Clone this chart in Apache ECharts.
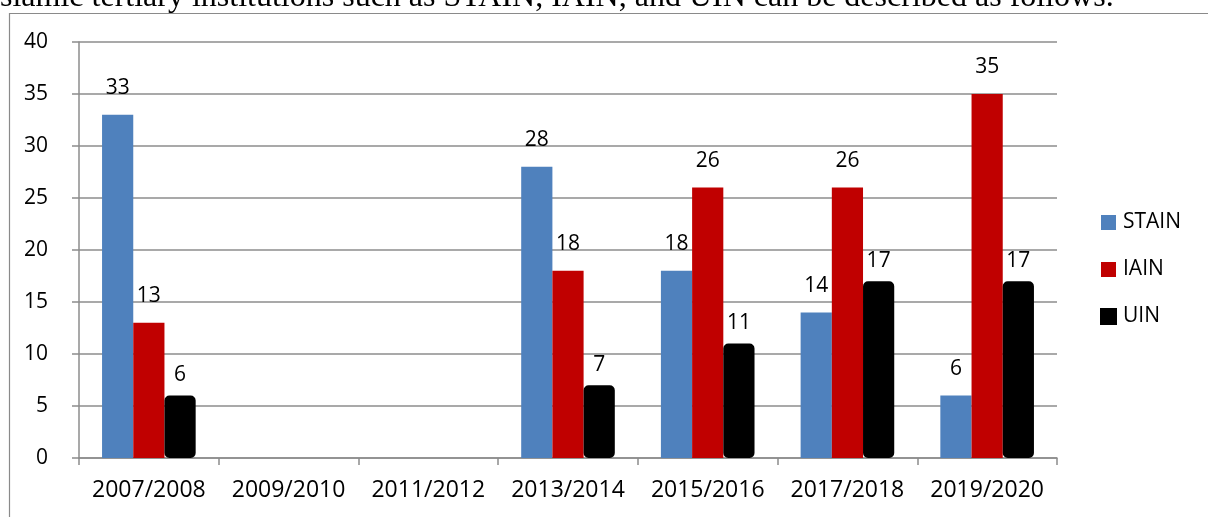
<!DOCTYPE html>
<html>
<head>
<meta charset="utf-8">
<script src="https://cdn.jsdelivr.net/npm/echarts@6/dist/echarts.min.js"></script>
<style>
html,body{margin:0;padding:0;background:#fff;}
#c{width:1208px;height:517px;}
</style>
</head>
<body>
<div id="c"></div>
<script>
var categories = ['2007/2008','2009/2010','2011/2012','2013/2014','2015/2016','2017/2018','2019/2020'];
var stain = [33, null, null, 28, 18, 14, 6];
var iain  = [13, null, null, 18, 26, 26, 35];
var uin   = [6, null, null, 7, 11, 17, 17];
var yTicks = [0, 5, 10, 15, 20, 25, 30, 35, 40];
var headerText = 'slamic tertiary institutions such as STAIN, IAIN, and UIN can be described as follows.';

var FONT = '"Open Sans", "Noto Sans", sans-serif';
var GRID = '#8c8c8c';

var chart = echarts.init(document.getElementById('c'), null, {renderer: 'canvas'});

function lbl(dist) {
  return {show: true, position: 'top', distance: dist, color: '#000', fontFamily: FONT, fontSize: 21,
          formatter: function(p){ return p.value == null ? '' : p.value; }};
}

chart.setOption({
  animation: false,
  backgroundColor: '#fff',
  graphic: [
    {type: 'rect', silent: true, shape: {x: 9.5, y: 13.5, width: 1400, height: 700},
     style: {fill: 'none', stroke: '#8a8a8a', lineWidth: 1.2}},
    {type: 'text', left: 0, top: -18, silent: true, z: 10,
     style: {text: headerText, fontFamily: '"Liberation Serif", "Times New Roman", serif', fontSize: 32, fill: '#000'}}
  ],
  grid: {left: 79, right: 151, top: 42, bottom: 59, containLabel: false},
  legend: {
    orient: 'vertical', left: 1100, top: 212, padding: 0, itemWidth: 15, itemHeight: 15, itemGap: 26,
    icon: 'rect',
    textStyle: {fontFamily: FONT, fontSize: 21, color: '#000', padding: [0,0,0,2]},
    data: ['STAIN','IAIN','UIN']
  },
  xAxis: {
    type: 'category', data: categories,
    axisLine: {show: true, lineStyle: {color: GRID, width: 1.5}},
    axisTick: {show: true, length: 7, lineStyle: {color: GRID, width: 1.5}},
    axisLabel: {color: '#000', fontFamily: FONT, fontSize: 23, margin: 21, interval: 0}
  },
  yAxis: {
    type: 'value', min: 0, max: 40, interval: 5,
    axisLine: {show: true, lineStyle: {color: GRID, width: 1.5}},
    axisTick: {show: true, length: 7, lineStyle: {color: GRID, width: 1.5}},
    splitLine: {show: true, lineStyle: {color: GRID, width: 1.5}},
    axisLabel: {color: '#000', fontFamily: FONT, fontSize: 21, margin: 31,
      formatter: function(v){ return yTicks.indexOf(v) >= 0 ? String(v) : ''; }}
  },
  series: [
    {name: 'STAIN', type: 'bar', data: stain, barGap: '0%', barCategoryGap: '33%',
     itemStyle: {color: '#4F81BD'}, label: lbl(16)},
    {name: 'IAIN', type: 'bar', data: iain, barGap: '0%', barCategoryGap: '33%',
     itemStyle: {color: '#C00000'}, label: lbl(16)},
    {name: 'UIN', type: 'bar', data: uin, barGap: '0%', barCategoryGap: '33%',
     itemStyle: {color: '#000000', borderColor: '#000', borderWidth: 4, borderRadius: 3}, label: lbl(10)}
  ]
});
</script>
</body>
</html>
